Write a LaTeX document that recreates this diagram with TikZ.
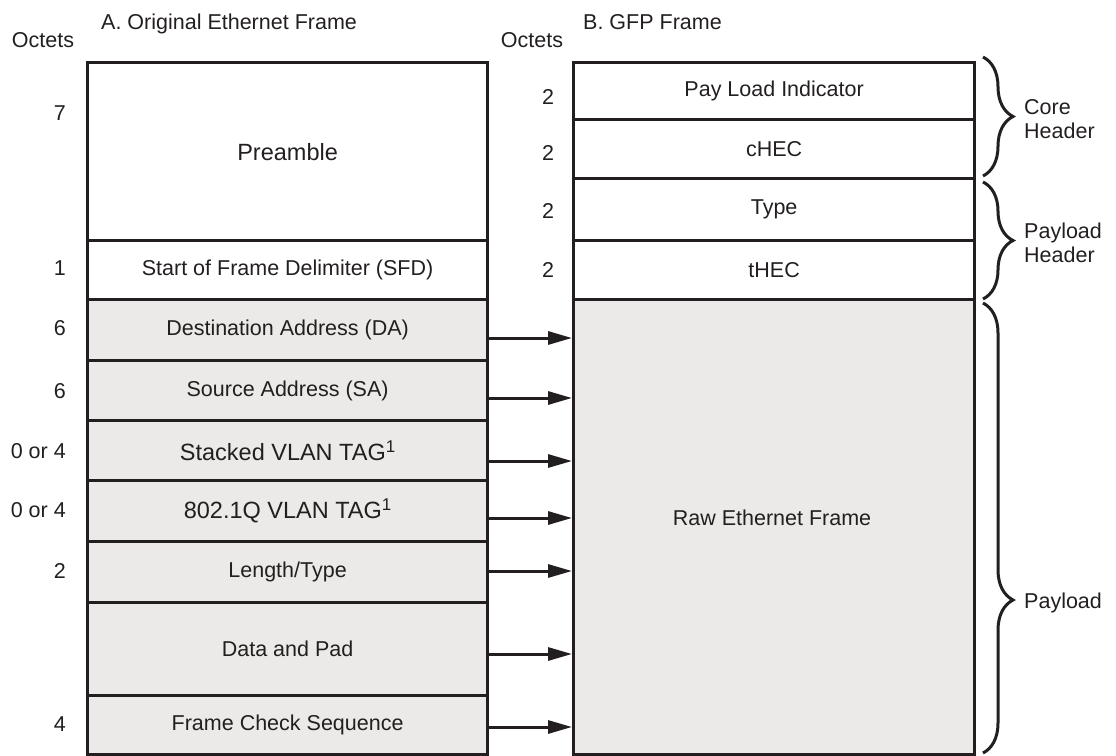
\documentclass[tikz,border=0pt]{standalone}
\usepackage{fontspec}
\setmainfont{Liberation Sans}
\usetikzlibrary{arrows.meta,decorations.pathreplacing}
\definecolor{ink}{RGB}{35,31,32}
\definecolor{shade}{RGB}{235,234,232}
\begin{document}
\begin{tikzpicture}[x=1pt,y=-1pt,
  every node/.style={text=ink,font=\fontsize{21.5}{25}\selectfont,inner sep=0pt},
  field/.style={draw=ink,line width=3.2pt,anchor=north west,minimum width=400pt},
  gfield/.style={field,fill=shade},
  rfield/.style={field,minimum width=401pt},
  num/.style={anchor=east},
  arr/.style={draw=ink,line width=3pt,-{Triangle[length=24pt,width=13pt]}},
  brc/.style={draw=ink,line width=3pt,decorate,decoration={brace,amplitude=30pt}},
  big/.style={font=\fontsize{23.5}{28}\selectfont},
  side/.style={anchor=west,align=left,font=\fontsize{21.5}{24}\selectfont}
]
\useasboundingbox (0,0) rectangle (1116,755);
% titles
\node (octl) at (43,40) {Octets};
\node[anchor=base west] (ta) at (101,29) {A. Original Ethernet Frame};
\node (octr) at (532,40) {Octets};
\node[anchor=base west] (tb) at (583,29) {B. GFP Frame};
% left frame
\node[field,minimum height=178pt,big] (pre) at (86,61) {Preamble};
\node[field,minimum height=59pt] (sfd) at (86,239) {Start of Frame Delimiter (SFD)};
\node[gfield,minimum height=61pt] (da) at (86,298) {Destination Address (DA)};
\node[gfield,minimum height=60pt] (sa) at (86,359) {Source Address (SA)};
\node[gfield,minimum height=60pt,big] (sv) at (86,419) {Stacked VLAN TAG\raisebox{0.35em}{\fontsize{17}{17}\selectfont 1}};
\node[gfield,minimum height=61pt,big] (qv) at (86,479) {802.1Q VLAN TAG\raisebox{0.35em}{\fontsize{17}{17}\selectfont 1}};
\node[gfield,minimum height=61pt] (lt) at (86,540) {Length/Type};
\node[gfield,minimum height=93pt] (dp) at (86,601) {Data and Pad};
\node[gfield,minimum height=59pt] (fcs) at (86,694) {Frame Check Sequence};
% left octets
\node[num] (n1) at (66,113) {7};
\node[num] (n2) at (66,268) {1};
\node[num] (n3) at (66,328) {6};
\node[num] (n4) at (66,391) {6};
\node[num] (n5) at (66,451) {0 or 4};
\node[num] (n6) at (66,510) {0 or 4};
\node[num] (n7) at (66,571) {2};
\node[num] (n8) at (66,724) {4};
% right frame
\node[rfield,minimum height=57pt] (pli) at (572,61) {Pay Load Indicator};
\node[rfield,minimum height=59pt] (chec) at (572,118) {cHEC};
\node[rfield,minimum height=62pt] (type) at (572,177) {Type};
\node[rfield,minimum height=59pt] (thec) at (572,239) {tHEC};
\node[rfield,fill=shade,minimum height=455pt] (raw) at (572,298) {};
\node (rawt) at (772,518) {Raw Ethernet Frame};
% right octets
\node (m1) at (548,97) {2};
\node (m2) at (548,153) {2};
\node (m3) at (548,211) {2};
\node (m4) at (548,270) {2};
% arrows
\draw[arr] (da.east |- 0,338) -- (raw.west |- 0,338);
\draw[arr] (sa.east |- 0,398) -- (raw.west |- 0,398);
\draw[arr] (sv.east |- 0,461) -- (raw.west |- 0,461);
\draw[arr] (qv.east |- 0,518) -- (raw.west |- 0,518);
\draw[arr] (lt.east |- 0,571) -- (raw.west |- 0,571);
\draw[arr] (dp.east |- 0,654) -- (raw.west |- 0,654);
\draw[arr] (fcs.east |- 0,727) -- (raw.west |- 0,727);
% braces
\coordinate (b1a) at (983,57);
\coordinate (b1b) at (983,176);
\coordinate (b2a) at (983,182);
\coordinate (b2b) at (983,299);
\coordinate (b3a) at (983,303);
\coordinate (b3b) at (983,753);
\draw[brc] (b1a) -- (b1b);
\draw[brc] (b2a) -- (b2b);
\draw[brc,decoration={brace,amplitude=30pt,aspect=0.66}] (b3a) -- (b3b);
\node[side] (core) at (1024,119) {Core\\Header};
\node[side] (plh) at (1024,243) {Payload\\Header};
\node[side] (pl) at (1024,603) {Payload};
\end{tikzpicture}
\end{document}
